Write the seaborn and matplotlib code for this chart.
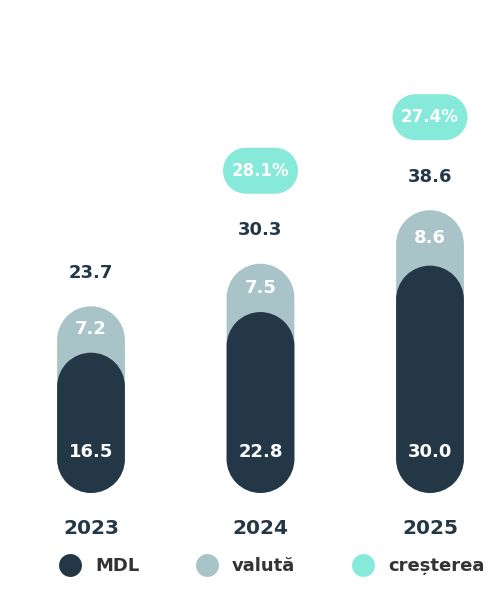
import matplotlib
matplotlib.use('Agg')
import numpy as np
import pandas as pd
import seaborn as sns
import matplotlib.pyplot as plt
from matplotlib.patches import PathPatch
from matplotlib.path import Path
from matplotlib.lines import Line2D

# Data
years = ['2023', '2024', '2025']
mdl = [16.5, 22.8, 30.0]
valuta = [7.2, 7.5, 8.6]
total = [23.7, 30.3, 38.6]
growth = ['', '28.1%', '27.4%']
legend_labels = ['MDL', 'valută', 'creșterea']

# Colours
dark = '#243746'
light = '#a8c4c8'
teal = '#86e9da'
text_grey = '#333333'

sns.set_theme(style='white')
plt.rcParams['font.family'] = ['DejaVu Sans']

fig = plt.figure(figsize=(4.91, 6.09), dpi=100)
ax = fig.add_axes([0, 99 / 609, 1, 510 / 609])

df = pd.DataFrame({'an': years, 'total': total, 'mdl': mdl})
sns.barplot(data=df, x='an', y='total', color=light, width=0.4, saturation=1, ax=ax)
sns.barplot(data=df, x='an', y='mdl', color=dark, width=0.4, saturation=1, ax=ax)

ax.set_xlim(-0.537, 2.36)
ax.set_ylim(-7.9, 71.2)

# pixel scale of the data units
px_x = ax.transData.transform((1, 0))[0] - ax.transData.transform((0, 0))[0]
px_y = ax.transData.transform((0, 1))[1] - ax.transData.transform((0, 0))[1]
aspect = px_x / px_y


def pill(cx, cy, w, h, color, z):
    # capsule shape with round ends on the short side (w, h in data units)
    if h * px_y >= w * px_x:
        rx, ry = w / 2, w / 2 * aspect
        centres = [(cx, cy + h / 2 - ry), (cx, cy - h / 2 + ry)]
        angles = [(0, 180), (180, 360)]
    else:
        ry, rx = h / 2, h / 2 / aspect
        centres = [(cx - w / 2 + rx, cy), (cx + w / 2 - rx, cy)]
        angles = [(90, 270), (270, 450)]
    verts, codes = [], []
    for (ccx, ccy), (t1, t2) in zip(centres, angles):
        arc = Path.arc(t1, t2)
        v = arc.vertices * [rx, ry] + [ccx, ccy]
        c = arc.codes.copy()
        if codes:
            c[0] = Path.LINETO
        verts.append(v)
        codes.append(c)
    verts.append(verts[0][:1])
    codes.append(np.array([Path.CLOSEPOLY]))
    path = Path(np.concatenate(verts), np.concatenate(codes))
    ax.add_patch(PathPatch(path, fc=color, ec='none', zorder=z))


# turn the bars into capsules (bottom cap hangs below the baseline)
for k, p in enumerate(list(ax.patches)):
    x0, w, h = p.get_x(), p.get_width(), p.get_height()
    fc = p.get_facecolor()
    p.remove()
    ry = w / 2 * aspect
    pill(x0 + w / 2, (h - ry) / 2, w, h + ry, fc, 1 + k // 3)

# Labels
for i in range(len(years)):
    ax.annotate(f'{total[i]:.1f}', (i, total[i]), xytext=(0, 24), textcoords='offset points',
                ha='center', va='center', fontsize=13, weight='bold', color=dark)
    ax.text(i, mdl[i] + valuta[i] / 2, f'{valuta[i]:.1f}', ha='center', va='center',
            fontsize=13, weight='bold', color='white', zorder=5)
    ax.annotate(f'{mdl[i]:.1f}', (i, 0), xytext=(0, 5), textcoords='offset points',
                ha='center', va='center', fontsize=13, weight='bold', color='white', zorder=5)
    if growth[i]:
        cy = total[i] + 93 / px_y
        pill(i, cy, 75 / px_x, 46 / px_y, teal, 3)
        ax.text(i, cy, growth[i], ha='center', va='center', fontsize=12,
                weight='bold', color='white', zorder=5)

ax.set_xlabel('')
ax.set_ylabel('')
ax.set_yticks([])
ax.tick_params(axis='x', length=0, pad=6.5, labelsize=14.5, labelcolor=dark)
for lab in ax.get_xticklabels():
    lab.set_fontweight('bold')
sns.despine(ax=ax, left=True, bottom=True)

handles = [Line2D([], [], marker='o', ls='', ms=16.5, mfc=c, mec='none', label=l)
           for c, l in zip([dark, light, teal], legend_labels)]
fig.legend(handles=handles, loc='center left', bbox_to_anchor=(58.3 / 491, 43 / 609),
           ncol=3, frameon=False, prop={'weight': 'bold', 'size': 13}, labelcolor=text_grey,
           handlelength=1.3, handletextpad=0.74, columnspacing=3.1,
           borderpad=0, borderaxespad=0)

fig.savefig('out.png', dpi=100)
